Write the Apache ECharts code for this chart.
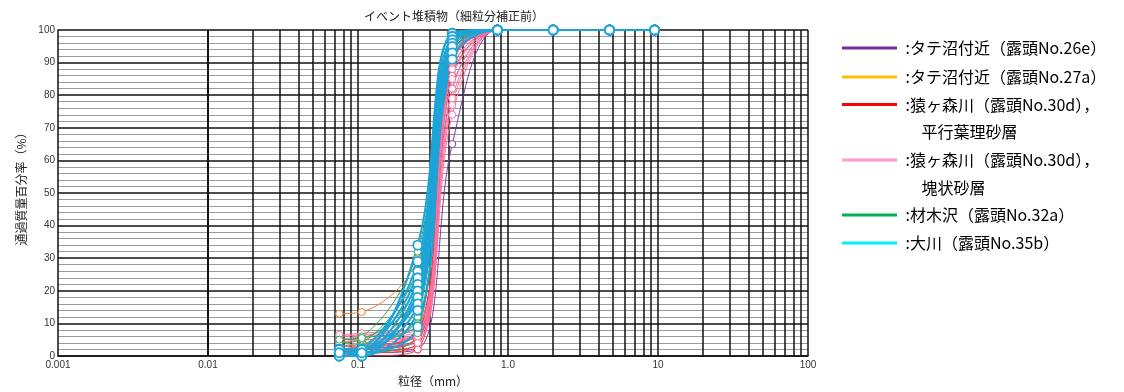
<!DOCTYPE html>
<html>
<head>
<meta charset="utf-8">
<script src="https://cdn.jsdelivr.net/npm/echarts@6/dist/echarts.min.js"></script>
<style>
html,body{margin:0;padding:0;background:#fff;}
#chart{width:1124px;height:392px;}
</style>
</head>
<body>
<div id="chart"></div>
<script>
// ---- data ----
const sieveSizes = [0.075, 0.106, 0.25, 0.425, 0.85, 2, 4.75, 9.5];

const curves26e = [
  [1, 1, 2, 65, 100, 100, 100, 100],
  [0, 1, 4, 82, 100, 100, 100, 100],
  [1, 2, 6, 90, 100, 100, 100, 100]
];
const curves27a = [
  [13, 13.5, 30, 96, 100, 100, 100, 100],
  [2, 3, 18, 94, 100, 100, 100, 100]
];
const curves30dLam = [
  [1, 1, 3, 95, 100, 100, 100, 100],
  [1, 2, 5, 93, 100, 100, 100, 100],
  [2, 2, 6, 92, 100, 100, 100, 100],
  [0, 1, 4, 90, 100, 100, 100, 100],
  [2, 3, 7, 88, 100, 100, 100, 100],
  [1, 2, 8, 94, 100, 100, 100, 100],
  [3, 3, 9, 91, 100, 100, 100, 100],
  [0, 0, 2, 86, 100, 100, 100, 100]
];
const curves30dMas = [
  [4, 5, 6, 74, 100, 100, 100, 100],
  [5, 6, 7, 77, 100, 100, 100, 100],
  [6, 6.5, 8, 79, 100, 100, 100, 100],
  [4, 5, 5, 82, 100, 100, 100, 100],
  [3, 4, 6, 85, 100, 100, 100, 100],
  [6.5, 7, 9, 88, 100, 100, 100, 100],
  [5, 5, 7, 90, 100, 100, 100, 100],
  [2, 3, 4, 92, 100, 100, 100, 100]
];
const curves32a = [
  [5, 6, 32, 98, 100, 100, 100, 100],
  [3, 4, 27, 97, 100, 100, 100, 100],
  [2, 3, 23, 96, 100, 100, 100, 100],
  [4, 5, 19, 95, 100, 100, 100, 100],
  [1, 2, 12, 96, 100, 100, 100, 100],
  [5, 5.5, 10, 94, 100, 100, 100, 100],
  [1, 1, 7, 93, 100, 100, 100, 100]
];
const curves35b = [
  [2, 2, 34, 99, 100, 100, 100, 100],
  [1, 2, 29, 99, 100, 100, 100, 100],
  [0, 1, 26, 98, 100, 100, 100, 100],
  [2, 2, 24, 98, 100, 100, 100, 100],
  [0, 0, 22, 97, 100, 100, 100, 100],
  [1, 1, 20, 97, 100, 100, 100, 100],
  [0, 1, 18, 96, 100, 100, 100, 100],
  [2, 2, 16, 95, 100, 100, 100, 100],
  [0, 0, 14, 93, 100, 100, 100, 100],
  [1, 1, 9, 91, 100, 100, 100, 100]
];

const groupNames = [
  'タテ沼付近（露頭No.26e）',
  'タテ沼付近（露頭No.27a）',
  '猿ヶ森川（露頭No.30d），平行葉理砂層',
  '猿ヶ森川（露頭No.30d），塊状砂層',
  '材木沢（露頭No.32a）',
  '大川（露頭No.35b）'
];
const legendLines1 = [
  ' :タテ沼付近（露頭No.26e）',
  ' :タテ沼付近（露頭No.27a）',
  ' :猿ヶ森川（露頭No.30d），',
  ' :猿ヶ森川（露頭No.30d），',
  ' :材木沢（露頭No.32a）',
  ' :大川（露頭No.35b）'
];
const legendLines2 = ['', '', '　 平行葉理砂層', '　 塊状砂層', '', ''];
const xTickLabels = ['0.001', '0.01', '0.1', '1.0', '10', '100'];
const gridDecades = [0.001, 0.01, 0.1, 1, 10];
const gridMultipliers = [1, 2, 3, 4, 5, 6, 7, 8, 9];
const gridEnd = 100;

// ---- styles ----
const groupCurves = [curves26e, curves27a, curves30dLam, curves30dMas, curves32a, curves35b];
const plotColors = ['#7B3FA8', '#EE8035', '#F23A4E', '#FF73A0', '#2EAA5A', '#1DA4D8'];
const legendColors = ['#7030A0', '#FFC000', '#FF0000', '#FF99CC', '#00B050', '#00F0FF'];
const lineWidths = [1, 1, 1, 1, 1, 2];
const symbolSizes = [7, 7, 7, 7, 7, 9];
const borderWidths = [1, 1, 1, 1, 1, 1.8];
const legendIconY = [48, 77, 104.5, 160, 215, 243];
const LH = 27.5;

const FONT = '"Noto Sans CJK JP", "Noto Sans", sans-serif';
const NUMFONT = '"Liberation Sans", Arial, sans-serif';

const vLines = [];
gridDecades.forEach(d => gridMultipliers.forEach(m => vLines.push({ xAxis: d * m })));
vLines.push({ xAxis: gridEnd });

const series = [{
  type: 'line',
  data: [],
  silent: true,
  z: 1,
  markLine: {
    silent: true,
    z: 1,
    symbol: ['none', 'none'],
    label: { show: false },
    animation: false,
    lineStyle: { color: '#111', width: 1.5, type: 'solid' },
    emphasis: { disabled: true },
    data: vLines
  }
}];

groupCurves.forEach((curves, g) => {
  curves.forEach(vals => {
    series.push({
      name: groupNames[g],
      type: 'line',
      z: 3,
      smooth: 0.35,
      symbol: 'circle',
      symbolSize: symbolSizes[g],
      showSymbol: true,
      showAllSymbol: true,
      lineStyle: { color: plotColors[g], width: lineWidths[g] },
      itemStyle: { color: '#fff', borderColor: plotColors[g], borderWidth: borderWidths[g] },
      emphasis: { disabled: true },
      data: sieveSizes.map((s, i) => [s, vals[i]])
    });
  });
});

// Two-line items: an empty first line keeps the icon level with the first text line.
const legends = groupNames.map((n, g) => {
  const two = legendLines2[g] !== '';
  const label = two ? ' \n' + legendLines1[g] + '\n' + legendLines2[g] : legendLines1[g];
  return {
    data: [{ name: n, icon: 'rect', itemStyle: { color: legendColors[g], borderWidth: 0 } }],
    left: 842,
    top: two ? legendIconY[g] - 1.5 * LH : legendIconY[g] - LH / 2,
    itemWidth: 55,
    itemHeight: 3,
    padding: 0,
    selectedMode: false,
    formatter: () => label,
    textStyle: {
      fontFamily: FONT,
      fontSize: 16,
      color: '#000',
      lineHeight: LH
    }
  };
});

const chart = echarts.init(document.getElementById('chart'), null, { renderer: 'canvas' });
chart.setOption({
  animation: false,
  backgroundColor: '#fff',
  title: {
    text: 'イベント堆積物（細粒分補正前）',
    left: 454,
    top: 10,
    padding: 0,
    textAlign: 'center',
    textStyle: { fontFamily: FONT, fontSize: 12, fontWeight: 'normal', color: '#222' }
  },
  legend: legends,
  grid: { left: 58, right: 316, top: 30, bottom: 32, containLabel: false },
  xAxis: {
    type: 'log',
    logBase: 10,
    min: 0.001,
    max: 100,
    name: '粒径（mm）',
    nameLocation: 'middle',
    nameGap: 19,
    nameTextStyle: { fontFamily: FONT, fontSize: 12, color: '#222' },
    axisLine: { show: true, lineStyle: { color: '#111', width: 1.5 } },
    axisTick: { show: false },
    splitLine: { show: false },
    axisLabel: {
      margin: 4,
      fontFamily: NUMFONT,
      fontSize: 10,
      color: '#333',
      formatter: v => xTickLabels[Math.round(Math.log10(v)) + 3]
    }
  },
  yAxis: {
    type: 'value',
    min: 0,
    max: 100,
    interval: 10,
    name: '通過質量百分率（%）',
    nameLocation: 'middle',
    nameRotate: 90,
    nameGap: 30,
    nameTextStyle: { fontFamily: FONT, fontSize: 12, color: '#222', padding: [0, 0, 0, 14] },
    axisLine: { show: true, lineStyle: { color: '#111', width: 1.5 } },
    axisTick: { show: false },
    axisLabel: { margin: 3, fontFamily: NUMFONT, fontSize: 10, color: '#333' },
    splitLine: { show: true, lineStyle: { color: '#111', width: 1.5 } },
    minorTick: { show: false, splitNumber: 5 },
    minorSplitLine: { show: true, lineStyle: { color: '#9a9a9a', width: 1 } }
  },
  series: series
});
</script>
</body>
</html>
